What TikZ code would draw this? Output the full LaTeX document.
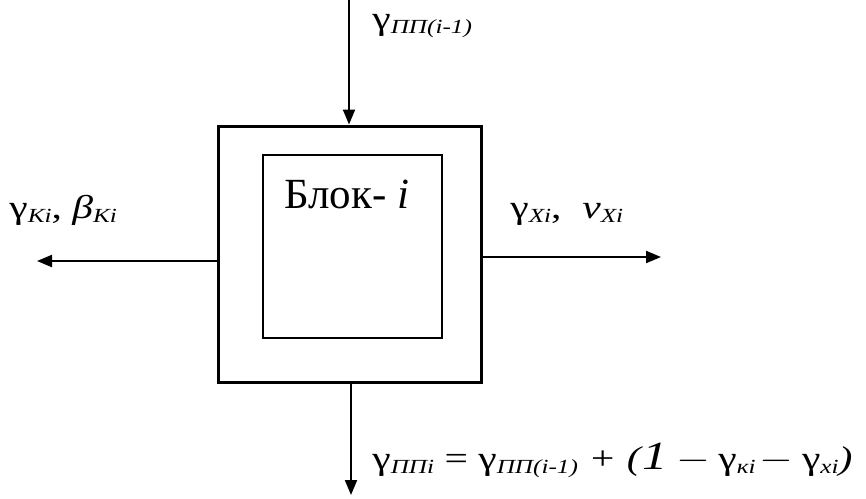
\documentclass[tikz,border=0pt]{standalone}
\usepackage{fontspec}
\setmainfont{Liberation Serif}
\usetikzlibrary{arrows.meta}
\newcommand{\gsym}{{\fontsize{16.5}{19}\selectfont γ}}
\newcommand{\subtx}[1]{\raisebox{-0.15em}{\fontsize{10}{12}\selectfont\itshape #1}}
\newcommand{\wide}[1]{\scalebox{1.26}[1]{#1}}
\tikzset{
  conn/.style={line width=1pt,-{Triangle[length=7.5pt,width=6pt]}},
  lbl/.style={inner sep=0pt,anchor=base west,font=\fontsize{16.5}{19}\selectfont},
}
\begin{document}
\begin{tikzpicture}[x=0.5pt,y=-0.5pt]
\useasboundingbox (0,0) rectangle (866,498);
\node[draw,line width=1.5pt,minimum width=131.5pt,minimum height=128pt,inner sep=0pt] (outer) at (349.5,254) {};
\node[draw,line width=0.6pt,minimum width=89.5pt,minimum height=91.5pt,inner sep=0pt] (inner) at (352.5,246.5) {};
\node[lbl,font=\fontsize{21.5}{25}\selectfont] (blok) at (284,208) {Блок- \textit{i}};
\coordinate (topin) at (349,0);
\coordinate (leftout) at (37,261);
\coordinate (rightout) at (661,257);
\coordinate (botout) at (351,495);
\draw[conn] (topin) -- (topin |- outer.north);
\draw[conn] (outer.west |- leftout) -- (leftout);
\draw[conn] (outer.east |- rightout) -- (rightout);
\draw[conn] (botout |- outer.south) -- (botout);
\node[lbl] (ltop) at (372,29) {\wide{\gsym\subtx{ПП(i-1)}}};
\node[lbl] (lleft) at (9,218) {\wide{\gsym\subtx{Ki}, \textit{β}\subtx{Ki}}};
\node[lbl] (lright) at (510,218) {\wide{\gsym\subtx{Xi},\hspace{0.5em}\textit{ν}\subtx{Xi}}};
\node[lbl] (lbot) at (372,469) {\wide{\gsym\subtx{ППi} = \gsym\subtx{ПП(i-1)} \textit{+ (}{\fontsize{20}{22}\selectfont\itshape 1}\hspace{0.2em}\(-\)\hspace{0.2em}\gsym\subtx{кi}\hspace{0.1em}\(-\)\hspace{0.2em}\gsym\subtx{xi}\textit{)}}};
\end{tikzpicture}
\end{document}
